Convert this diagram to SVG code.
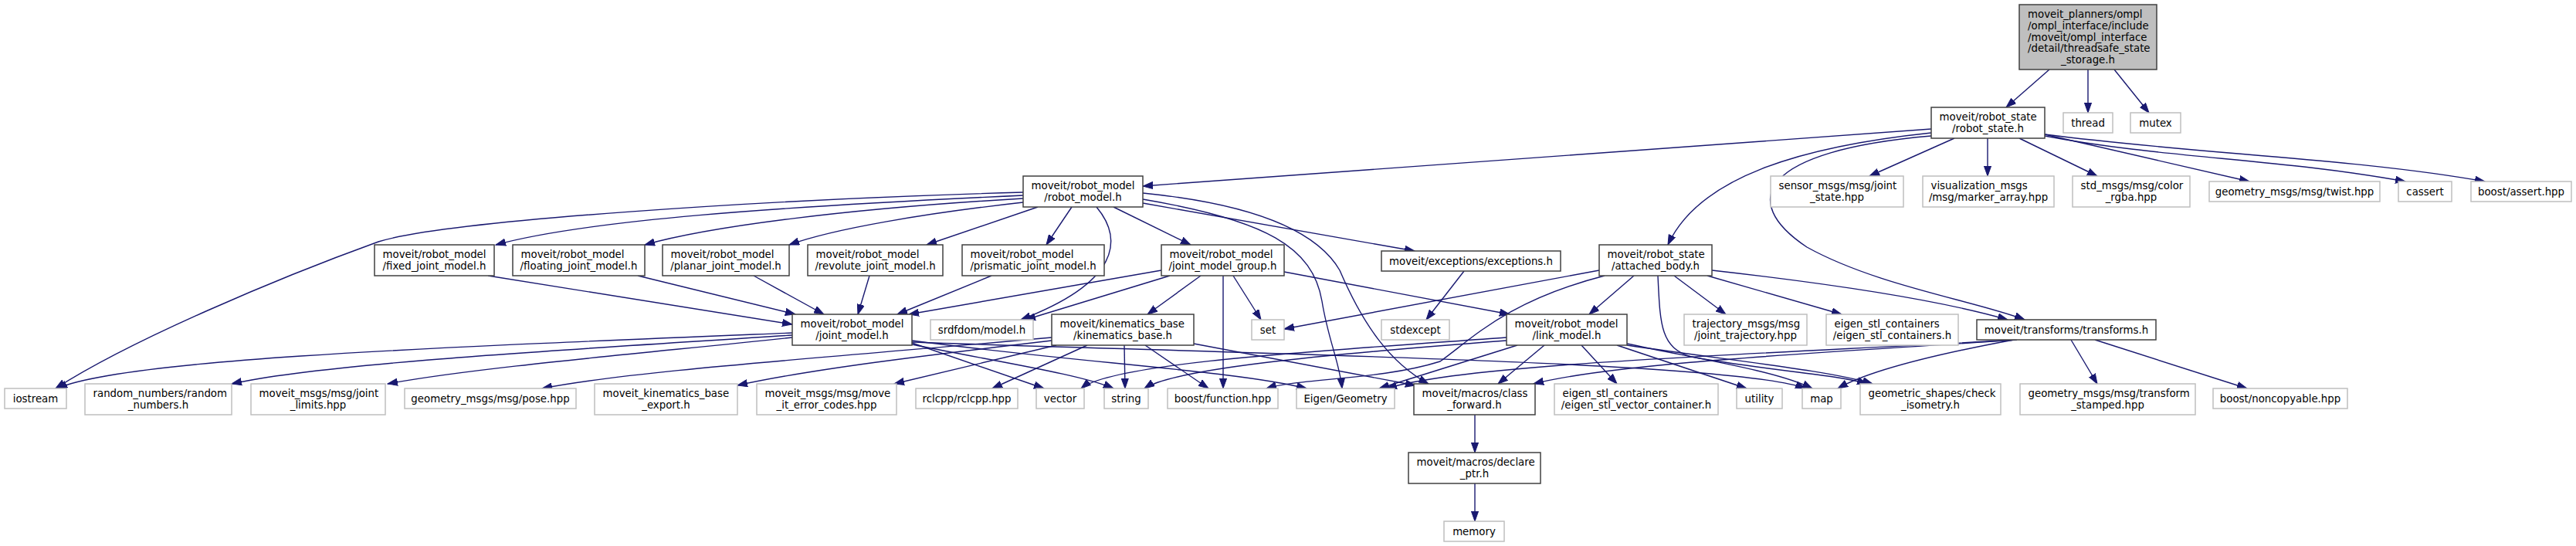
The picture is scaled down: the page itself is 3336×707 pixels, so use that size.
<svg xmlns="http://www.w3.org/2000/svg" width="3336" height="707" viewBox="0 0 3336 707">
<style>
text{font-family:"DejaVu Sans","Liberation Sans",sans-serif;font-size:13.33px;fill:#000}
.m{text-anchor:middle}
.l{text-anchor:start}
.doc rect{fill:#fff;stroke:#404040;stroke-width:1.5}
.ext rect{fill:#fff;stroke:#bfbfbf;stroke-width:1.5}
.root rect{fill:#bfbfbf;stroke:#404040;stroke-width:1.5}
#edges path{fill:none;stroke:#191970;stroke-width:1.4;marker-end:url(#ah)}
</style>
<defs>
<marker id="ah" markerUnits="userSpaceOnUse" markerWidth="14" markerHeight="10" refX="13" refY="5" orient="auto">
<path d="M0,0.4 L13,5 L0,9.6 z" fill="#191970" stroke="#191970" stroke-width="1"/>
</marker>
</defs>
<rect x="0" y="0" width="3336" height="707" fill="#fff"/>
<g id="edges">
<path d="M2654,90 L2598,139"/>
<path d="M2704,90 L2704,146"/>
<path d="M2738,90 L2783,146"/>
<path d="M2501,167 L1480,241"/>
<path d="M2501,172 C2330,190 2200,230 2160,317"/>
<path d="M2501,176 C2280,195 2250,260 2340,320 C2430,370 2560,390 2622,414"/>
<path d="M2531,179 L2421,228"/>
<path d="M2574,179 L2574,228"/>
<path d="M2615,179 L2716,228"/>
<path d="M2648,174 L2913,235"/>
<path d="M2648,176 C2800,205 2950,205 3115,235"/>
<path d="M2648,174 C2850,200 3050,205 3218,235"/>
<path d="M1325,249 C1000,258 580,285 490,313 C360,360 170,440 72,503"/>
<path d="M1325,253 C1000,268 760,285 642,317"/>
<path d="M1325,257 C1100,270 920,293 835,317"/>
<path d="M1325,262 C1200,276 1080,296 1022,317"/>
<path d="M1344,268 L1200,317"/>
<path d="M1388,268 L1355,317"/>
<path d="M1442,268 L1542,317"/>
<path d="M1480,263 L1832,325"/>
<path d="M1420,268 C1455,310 1450,365 1322,414"/>
<path d="M1480,258 C1640,285 1700,320 1712,390 C1720,440 1735,470 1738,503"/>
<path d="M1480,250 C1600,262 1700,290 1735,350 C1765,420 1800,470 1850,497"/>
<path d="M632,357 L1026,420"/>
<path d="M826,357 L1030,407"/>
<path d="M976,357 L1067,407"/>
<path d="M1126,357 L1111,407"/>
<path d="M1284,357 L1162,407"/>
<path d="M1504,350 L1177,407"/>
<path d="M1515,357 L1328,414"/>
<path d="M1555,357 L1486,407"/>
<path d="M1584,357 L1584,503"/>
<path d="M1597,357 L1633,414"/>
<path d="M1663,352 L1955,407"/>
<path d="M1896,351 L1847,414"/>
<path d="M2071,350 L1663,426"/>
<path d="M2078,357 C1950,390 1905,440 1865,468 C1790,492 1680,490 1640,503"/>
<path d="M2116,357 L2058,407"/>
<path d="M2147,357 C2150,420 2150,450 2190,462 C2290,480 2380,485 2418,497"/>
<path d="M2168,357 L2235,407"/>
<path d="M2211,357 L2385,407"/>
<path d="M2217,350 C2350,365 2500,385 2600,414"/>
<path d="M1026,431 C560,450 160,465 74,503"/>
<path d="M1026,434 C750,452 420,470 300,497"/>
<path d="M1026,437 C860,455 620,475 502,497"/>
<path d="M1181,444 L1352,503"/>
<path d="M1181,446 C1300,470 1400,485 1442,503"/>
<path d="M1181,441 C1400,470 1600,480 1692,503"/>
<path d="M1181,443 C1600,458 2250,468 2338,503"/>
<path d="M1362,437 C1050,465 820,480 702,503"/>
<path d="M1362,441 C1200,460 1050,478 955,499"/>
<path d="M1368,447 L1158,497"/>
<path d="M1408,447 L1285,503"/>
<path d="M1456,447 L1457,503"/>
<path d="M1483,447 L1565,503"/>
<path d="M1546,445 L1833,499"/>
<path d="M1951,437 C1700,455 1440,470 1400,503"/>
<path d="M1951,441 C1700,460 1520,478 1482,503"/>
<path d="M1965,447 L1786,503"/>
<path d="M2000,447 L1940,497"/>
<path d="M2048,447 L2094,497"/>
<path d="M2094,447 L2262,503"/>
<path d="M2107,445 C2200,465 2300,480 2347,503"/>
<path d="M2107,447 C2250,468 2370,480 2425,497"/>
<path d="M2682,440 L2716,497"/>
<path d="M2713,440 L2910,503"/>
<path d="M2612,440 C2300,458 1900,470 1796,503"/>
<path d="M2610,440 C2400,455 2100,468 1986,497"/>
<path d="M2608,440 C2500,460 2420,480 2380,503"/>
<path d="M1910,537 L1910,586"/>
<path d="M1910,626 L1910,675"/>
</g>

<g id="root" class="root"><rect x="2615" y="6" width="178" height="84"/>
<text class="l" x="2626" y="23.4">moveit_planners/ompl</text>
<text class="l" x="2626" y="38">/ompl_interface/include</text>
<text class="l" x="2626" y="52.7">/moveit/ompl_interface</text>
<text class="l" x="2626" y="67.4">/detail/threadsafe_state</text>
<text class="m" x="2704" y="82">_storage.h</text></g>

<g id="robot_state" class="doc"><rect x="2501" y="139" width="147" height="40"/>
<text class="l" x="2511.5" y="156.4">moveit/robot_state</text><text class="m" x="2574.5" y="171">/robot_state.h</text></g>
<g id="thread" class="ext"><rect x="2672" y="146" width="64" height="26"/><text class="m" x="2704" y="163.7">thread</text></g>
<g id="mutex" class="ext"><rect x="2759" y="146" width="65" height="26"/><text class="m" x="2791.5" y="163.7">mutex</text></g>

<g id="robot_model" class="doc"><rect x="1325" y="228" width="155" height="40"/>
<text class="l" x="1335.5" y="245.4">moveit/robot_model</text><text class="m" x="1402.5" y="260">/robot_model.h</text></g>
<g id="joint_state" class="ext"><rect x="2293" y="228" width="172" height="40"/>
<text class="l" x="2303.5" y="245.4">sensor_msgs/msg/joint</text><text class="m" x="2379" y="260">_state.hpp</text></g>
<g id="marker_array" class="ext"><rect x="2490" y="228" width="170" height="40"/>
<text class="l" x="2500.5" y="245.4">visualization_msgs</text><text class="m" x="2575" y="260">/msg/marker_array.hpp</text></g>
<g id="color_rgba" class="ext"><rect x="2684" y="228" width="152" height="40"/>
<text class="l" x="2694.5" y="245.4">std_msgs/msg/color</text><text class="m" x="2760" y="260">_rgba.hpp</text></g>
<g id="twist" class="ext"><rect x="2861" y="235" width="221" height="26"/><text class="m" x="2971.5" y="252.7">geometry_msgs/msg/twist.hpp</text></g>
<g id="cassert" class="ext"><rect x="3106" y="235" width="69" height="26"/><text class="m" x="3140.5" y="252.7">cassert</text></g>
<g id="boost_assert" class="ext"><rect x="3200" y="235" width="130" height="26"/><text class="m" x="3265" y="252.7">boost/assert.hpp</text></g>

<g id="fixed_joint_model" class="doc"><rect x="485" y="317" width="155" height="40"/>
<text class="l" x="495.5" y="334.4">moveit/robot_model</text><text class="m" x="562.5" y="349">/fixed_joint_model.h</text></g>
<g id="floating_joint_model" class="doc"><rect x="664" y="317" width="171" height="40"/>
<text class="l" x="674.5" y="334.4">moveit/robot_model</text><text class="m" x="749.5" y="349">/floating_joint_model.h</text></g>
<g id="planar_joint_model" class="doc"><rect x="858" y="317" width="164" height="40"/>
<text class="l" x="868.5" y="334.4">moveit/robot_model</text><text class="m" x="940" y="349">/planar_joint_model.h</text></g>
<g id="revolute_joint_model" class="doc"><rect x="1046" y="317" width="175" height="40"/>
<text class="l" x="1056.5" y="334.4">moveit/robot_model</text><text class="m" x="1133.5" y="349">/revolute_joint_model.h</text></g>
<g id="prismatic_joint_model" class="doc"><rect x="1246" y="317" width="184" height="40"/>
<text class="l" x="1256.5" y="334.4">moveit/robot_model</text><text class="m" x="1338" y="349">/prismatic_joint_model.h</text></g>
<g id="joint_model_group" class="doc"><rect x="1504" y="317" width="159" height="40"/>
<text class="l" x="1514.5" y="334.4">moveit/robot_model</text><text class="m" x="1583.5" y="349">/joint_model_group.h</text></g>
<g id="exceptions" class="doc"><rect x="1789" y="325" width="232" height="26"/><text class="m" x="1905" y="342.7">moveit/exceptions/exceptions.h</text></g>
<g id="attached_body" class="doc"><rect x="2071" y="317" width="146" height="40"/>
<text class="l" x="2081.5" y="334.4">moveit/robot_state</text><text class="m" x="2144" y="349">/attached_body.h</text></g>

<g id="joint_model" class="doc"><rect x="1026" y="407" width="155" height="40"/>
<text class="l" x="1036.5" y="424.4">moveit/robot_model</text><text class="m" x="1103.5" y="439">/joint_model.h</text></g>
<g id="srdfdom_model" class="ext"><rect x="1205" y="414" width="133" height="26"/><text class="m" x="1271.5" y="431.7">srdfdom/model.h</text></g>
<g id="kinematics_base" class="doc"><rect x="1362" y="407" width="184" height="40"/>
<text class="l" x="1372.5" y="424.4">moveit/kinematics_base</text><text class="m" x="1454" y="439">/kinematics_base.h</text></g>
<g id="set" class="ext"><rect x="1621" y="414" width="42" height="26"/><text class="m" x="1642" y="431.7">set</text></g>
<g id="stdexcept" class="ext"><rect x="1789" y="414" width="88" height="26"/><text class="m" x="1833" y="431.7">stdexcept</text></g>
<g id="link_model" class="doc"><rect x="1951" y="407" width="156" height="40"/>
<text class="l" x="1961.5" y="424.4">moveit/robot_model</text><text class="m" x="2029" y="439">/link_model.h</text></g>
<g id="joint_trajectory" class="ext"><rect x="2181" y="407" width="159" height="40"/>
<text class="l" x="2191.5" y="424.4">trajectory_msgs/msg</text><text class="m" x="2260.5" y="439">/joint_trajectory.hpp</text></g>
<g id="eigen_stl_containers" class="ext"><rect x="2365" y="407" width="171" height="40"/>
<text class="l" x="2375.5" y="424.4">eigen_stl_containers</text><text class="m" x="2450.5" y="439">/eigen_stl_containers.h</text></g>
<g id="transforms" class="doc"><rect x="2560" y="414" width="232" height="26"/><text class="m" x="2676" y="431.7">moveit/transforms/transforms.h</text></g>

<g id="iostream" class="ext"><rect x="6" y="503" width="80" height="26"/><text class="m" x="46" y="520.7">iostream</text></g>
<g id="random_numbers" class="ext"><rect x="110" y="497" width="190" height="40"/>
<text class="l" x="120.5" y="514.4">random_numbers/random</text><text class="m" x="205" y="529">_numbers.h</text></g>
<g id="joint_limits" class="ext"><rect x="325" y="497" width="174" height="40"/>
<text class="l" x="335.5" y="514.4">moveit_msgs/msg/joint</text><text class="m" x="412" y="529">_limits.hpp</text></g>
<g id="pose" class="ext"><rect x="524" y="503" width="222" height="26"/><text class="m" x="635" y="520.7">geometry_msgs/msg/pose.hpp</text></g>
<g id="kinematics_base_export" class="ext"><rect x="770" y="497" width="185" height="40"/>
<text class="l" x="780.5" y="514.4">moveit_kinematics_base</text><text class="m" x="862.5" y="529">_export.h</text></g>
<g id="move_it_error_codes" class="ext"><rect x="980" y="497" width="181" height="40"/>
<text class="l" x="990.5" y="514.4">moveit_msgs/msg/move</text><text class="m" x="1070.5" y="529">_it_error_codes.hpp</text></g>
<g id="rclcpp" class="ext"><rect x="1186" y="503" width="132" height="26"/><text class="m" x="1252" y="520.7">rclcpp/rclcpp.hpp</text></g>
<g id="vector" class="ext"><rect x="1342" y="503" width="62" height="26"/><text class="m" x="1373" y="520.7">vector</text></g>
<g id="string" class="ext"><rect x="1430" y="503" width="57" height="26"/><text class="m" x="1458.5" y="520.7">string</text></g>
<g id="boost_function" class="ext"><rect x="1512" y="503" width="143" height="26"/><text class="m" x="1583.5" y="520.7">boost/function.hpp</text></g>
<g id="eigen_geometry" class="ext"><rect x="1679" y="503" width="127" height="26"/><text class="m" x="1742.5" y="520.7">Eigen/Geometry</text></g>
<g id="class_forward" class="doc"><rect x="1831" y="497" width="157" height="40"/>
<text class="l" x="1841.5" y="514.4">moveit/macros/class</text><text class="m" x="1909.5" y="529">_forward.h</text></g>
<g id="eigen_stl_vector_container" class="ext"><rect x="2013" y="497" width="212" height="40"/>
<text class="l" x="2023.5" y="514.4">eigen_stl_containers</text><text class="m" x="2119" y="529">/eigen_stl_vector_container.h</text></g>
<g id="utility" class="ext"><rect x="2249" y="503" width="59" height="26"/><text class="m" x="2278.5" y="520.7">utility</text></g>
<g id="map" class="ext"><rect x="2334" y="503" width="50" height="26"/><text class="m" x="2359" y="520.7">map</text></g>
<g id="check_isometry" class="ext"><rect x="2409" y="497" width="182" height="40"/>
<text class="l" x="2419.5" y="514.4">geometric_shapes/check</text><text class="m" x="2500" y="529">_isometry.h</text></g>
<g id="transform_stamped" class="ext"><rect x="2616" y="497" width="227" height="40"/>
<text class="l" x="2626.5" y="514.4">geometry_msgs/msg/transform</text><text class="m" x="2729.5" y="529">_stamped.hpp</text></g>
<g id="noncopyable" class="ext"><rect x="2866" y="503" width="174" height="26"/><text class="m" x="2953" y="520.7">boost/noncopyable.hpp</text></g>

<g id="declare_ptr" class="doc"><rect x="1824" y="586" width="171" height="40"/>
<text class="l" x="1834.5" y="603.4">moveit/macros/declare</text><text class="m" x="1909.5" y="618">_ptr.h</text></g>
<g id="memory" class="ext"><rect x="1870" y="675" width="78" height="26"/><text class="m" x="1909" y="692.7">memory</text></g>
</svg>
